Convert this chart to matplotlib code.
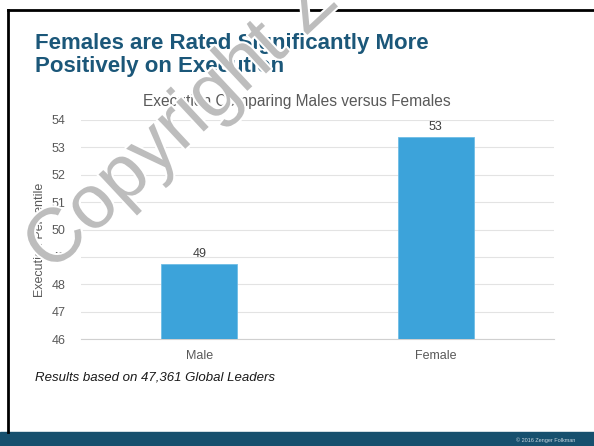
import matplotlib
matplotlib.use("Agg")
import matplotlib.pyplot as plt
import matplotlib.patheffects as pe
from matplotlib.patches import Rectangle
from matplotlib.lines import Line2D

plt.rcParams['font.family'] = ['Liberation Sans', 'DejaVu Sans']

# data
categories = ["Male", "Female"]
values = [48.73, 53.37]
labels = ["49", "53"]
yticks = [46, 47, 48, 49, 50, 51, 52, 53, 54]

W, H = 594, 446
fig = plt.figure(figsize=(W / 100, H / 100), dpi=100)

def fx(px):
    return px / W

def fy(py):
    return 1 - py / H

# slide frame
fig.add_artist(Line2D([fx(8), fx(8)], [fy(10), fy(432)], color="black", lw=2))
fig.add_artist(Line2D([fx(8), 1], [fy(10), fy(10)], color="black", lw=2))
fig.add_artist(Rectangle((0, 0), 1, fy(432), color="#17506e", transform=fig.transFigure, zorder=1))
fig.text(fx(575), fy(440), "\u00a9 2016 Zenger Folkman", color="#c8d6df", fontsize=4,
         ha="right", va="center")

# slide title
fig.text(fx(35), fy(72), "Females are Rated Significantly More\nPositively on Execution",
         color="#1b5779", fontsize=16, fontweight="bold", ha="left", va="baseline",
         linespacing=1.1)

ax = fig.add_axes([fx(81), fy(339), fx(554) - fx(81), fy(120) - fy(339)])
x = range(len(categories))
bars = ax.bar(x, values, width=0.32, color="#3ca3da", edgecolor="#6fbde6", lw=0.6, zorder=3)
for b, lab in zip(bars, labels):
    ax.annotate(lab, (b.get_x() + b.get_width() / 2, b.get_height()), xytext=(0, 3),
                textcoords="offset points", ha="center", va="bottom", fontsize=9, color="#404040")

ax.set_ylim(46, 54)
ax.set_xlim(-0.5, 1.5)
ax.set_yticks(yticks)
ax.set_xticks(list(x))
ax.set_xticklabels(categories)
ax.tick_params(length=0, labelsize=9, labelcolor="#595959", pad=8)
ax.tick_params(axis="y", pad=11)
ax.grid(axis="y", color="#e3e3e3", lw=0.8, zorder=0)
for s in ["top", "right", "left"]:
    ax.spines[s].set_visible(False)
ax.spines["bottom"].set_color("#d0d0d0")

fig.text(fx(297), fy(106), "Execution Comparing Males versus Females", fontsize=11.2,
         color="#595959", ha="center", va="baseline")
fig.text(fx(40), fy(240), "Execution Percentile", fontsize=9, color="#595959",
         rotation=90, ha="center", va="center")

fig.text(fx(35), fy(378), "Results based on 47,361 Global Leaders", fontsize=9.5,
         style="italic", color="#1a1a1a", ha="left", va="center")

# watermark
fig.text(fx(51), fy(274), "Copyright Zenger Folkman", fontsize=55, color="#bdbdbd",
         rotation=43, rotation_mode="anchor", ha="left", va="baseline", zorder=10,
         path_effects=[pe.withStroke(linewidth=3, foreground="white")])

fig.savefig("out.png", dpi=100)
